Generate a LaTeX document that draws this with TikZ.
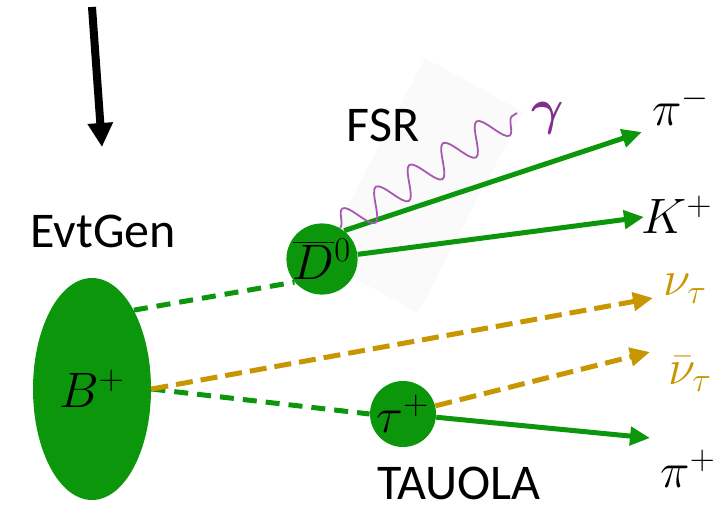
\documentclass[tikz,border=0pt]{standalone}
\usepackage{fontspec}
\setmainfont{Carlito}
\usepackage{bm}
\usetikzlibrary{arrows.meta,shapes.geometric,decorations.pathmorphing}
\definecolor{hepgreen}{RGB}{12,150,12}
\definecolor{hepgold}{RGB}{200,150,0}
\definecolor{heppurple}{RGB}{128,48,140}
\definecolor{wavepurple}{RGB}{165,90,175}
\definecolor{faintgray}{RGB}{250,250,250}
\begin{document}
\begin{tikzpicture}
            [x=0.5pt, y=-0.5pt,
            bigblob/.style={ellipse, fill=hepgreen, inner sep=0pt, minimum width=59pt, minimum height=111pt, font=\fontsize{24}{28}\selectfont},
            blob/.style={circle, fill=hepgreen, inner sep=0pt, font=\fontsize{24}{28}\selectfont},
            lbl/.style={inner sep=0pt, font=\fontsize{23}{27}\selectfont},
            word/.style={inner sep=0pt, font=\fontsize{25}{30}\selectfont},
            greenline/.style={draw=hepgreen, line width=2.5pt, -{Triangle[length=10pt,width=9pt]}},
            greendash/.style={draw=hepgreen, line width=2.5pt, dash pattern=on 7pt off 4.5pt},
            golddash/.style={draw=hepgold, line width=2.5pt, dash pattern=on 8.5pt off 4pt, -{Triangle[length=10pt,width=9pt]}},
            photon/.style={draw=wavepurple, line width=0.9pt, decorate, decoration={snake, amplitude=7.5pt, segment length=20pt}}]

            \useasboundingbox (0,0) rectangle (717,508);

            % faint backdrop behind the photon
            \fill[faintgray] (425,58) -- (523,112) -- (418,313) -- (320,259) -- cycle;

            \coordinate (top) at (92,7);
            \coordinate (down) at (102,147);
            \draw[line width=4pt, -{Triangle[length=12pt,width=12pt]}] (top) -- (down);

            \node[word] (evtgen) at (103,231) {EvtGen};
            \node[word] (fsr) at (383,125) {FSR};
            \node[word] (tauola) at (459,483) {TAUOLA};

            \node[bigblob] (b) at (92,389) {$B^+$};
            \node[blob, minimum size=35pt] (d0) at (322,259) {$\overline{D}{}^0$};
            \node[blob, minimum size=33pt] (tau) at (403,414) {$\tau^+$};

            \coordinate (pim) at (642,132);
            \coordinate (kp) at (644,217);
            \coordinate (nut) at (653,298);
            \coordinate (nutb) at (650,352);
            \coordinate (pip) at (650,438);
            \coordinate (gam) at (517,113);

            \node[lbl] (pimlbl) at (681,106) {$\pi^-$};
            \node[lbl] (kplbl) at (677,215) {$K^+$};
            \node[lbl, text=hepgold] (nutlbl) at (685,289) {$\nu_\tau$};
            \node[lbl, text=hepgold] (nutblbl) at (690,374) {$\bar{\nu}_\tau$};
            \node[lbl] (piplbl) at (688,469) {$\pi^+$};
            \node[lbl, text=heppurple, font=\fontsize{28}{32}\selectfont] (gamlbl) at (548,118) {$\bm{\gamma}$};

            \draw[greendash] (b.62) -- (d0.220);
            \draw[greendash] (b.east) -- (tau.west);
            \draw[golddash] (b.east) -- (nut);
            \draw[golddash] (tau) -- (nutb);
            \draw[greenline] (tau) -- (pip);
            \draw[greenline] (d0.52) -- (pim);
            \draw[greenline] (d0) -- (kp);
            \draw[photon] (d0.60) -- (gam);

        \end{tikzpicture}
\end{document}
